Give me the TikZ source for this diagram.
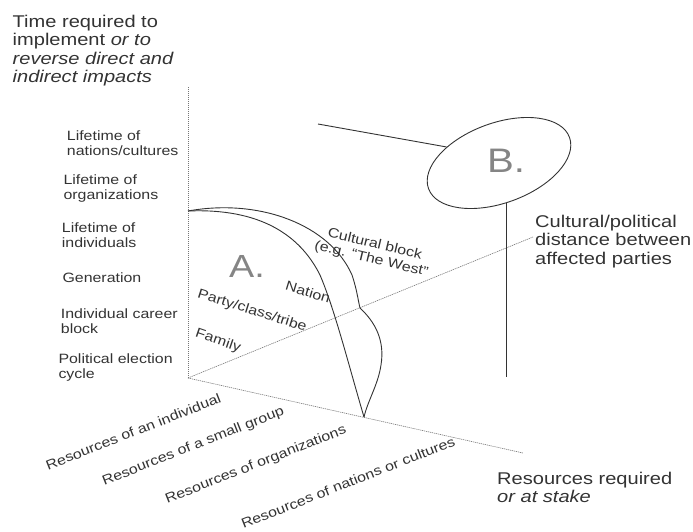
\documentclass[tikz,border=0pt]{standalone}
\usepackage{fontspec}
\setmainfont[FakeStretch=1.18]{Liberation Sans}
\usetikzlibrary{shapes.geometric}
\definecolor{ink}{HTML}{333333}
\definecolor{axisgray}{HTML}{767676}
\definecolor{lettergray}{HTML}{858585}

\begin{document}
\begin{tikzpicture}[x=1pt,y=-1pt,
  axis/.style={axisgray, line width=0.6pt, dash pattern=on 1.2pt off 0.8pt},
  curve/.style={ink, line width=0.9pt},
  lbl/.style={ink, inner sep=0pt, align=left, font=\fontsize{13.5}{15}\selectfont},
  biglbl/.style={ink, inner sep=0pt, align=left, font=\fontsize{17}{18.4}\selectfont},
  reslbl/.style={lbl, rotate=21.5},
  inlbl/.style={lbl},
  region/.style={lettergray, inner sep=0pt, font=\fontsize{32}{34}\selectfont}
]
\useasboundingbox (0,0) rectangle (693,532);

% axes
\coordinate (O) at (188,378);
\coordinate (ytop) at (188,87);
\coordinate (xend) at (523,453);
\coordinate (zend) at (533,237);
\draw[axis] (O) -- (ytop);
\draw[axis] (O) -- (xend);
\draw[axis] (O) -- (zend);

% region A: nation and cultural block envelopes
\coordinate (s) at (188,211);
\coordinate (e) at (364,417);
\coordinate (kink) at (360,308);
\draw[curve] (s) .. controls (260,208) and (300,235) .. (320,275)
  .. controls (335,310) and (350,370) .. (e);
\draw[curve] (s) .. controls (260,198) and (330,225) .. (352,275)
  .. controls (357,290) and (358,300) .. (kink)
  .. controls (375,322) and (385,340) .. (381,365)
  .. controls (378,385) and (368,400) .. (e);

% region B
\node[draw=ink, line width=0.9pt, ellipse, minimum width=150, minimum height=80,
      inner sep=0pt, rotate=20] (Bring) at (499,163) {};
\node[region, font=\fontsize{34}{36}\selectfont] (Blab) at (506,161) {B.};
\coordinate (lt) at (318,124);
\coordinate (vb) at (506,377);
\draw[curve] (lt) -- (Bring.143);
\draw[curve] (Bring.260) -- (Bring.260 |- vb);

\node[region] (Alab) at (247,266) {A.};

% axis titles
\node[biglbl, anchor=north west] (ttl) at (12.5,15)
  {Time required to\\implement \textit{or to}\\\textit{reverse direct and}\\\textit{indirect impacts}};
\node[biglbl, anchor=north west] (dist) at (535,215)
  {Cultural/political\\distance between\\affected parties};
\node[biglbl, anchor=north west] (resreq) at (497,471.5)
  {Resources required\\\textit{or at stake}};

% time scale
\node[lbl, anchor=north west] (t1) at (66.7,130.7) {Lifetime of\\nations/cultures};
\node[lbl, anchor=north west] (t2) at (63.3,175) {Lifetime of\\organizations};
\node[lbl, anchor=north west] (t3) at (61.7,222.3) {Lifetime of\\individuals};
\node[lbl, anchor=north west] (t4) at (62.3,272.3) {Generation};
\node[lbl, anchor=north west] (t5) at (60.7,308.3) {Individual career\\block};
\node[lbl, anchor=north west] (t6) at (58.3,354) {Political election\\cycle};

% resource scale
\node[reslbl] (r1) at (133.3,431.7) {Resources of an individual};
\node[reslbl] (r2) at (193.3,446.7) {Resources of a small group};
\node[reslbl] (r3) at (256,465) {Resources of organizations};
\node[reslbl] (r4) at (348,482.5) {Resources of nations or cultures};

% group labels inside region A
\node[inlbl, align=center, rotate=-13.5] (cb) at (373,252)
  {Cultural block\\(e.g. “The West”};
\node[inlbl, rotate=-17] (nat) at (308,292) {Nation};
\node[inlbl, rotate=-17.5] (pct) at (252,311) {Party/class/tribe};
\node[inlbl, rotate=-19] (fam) at (218,341) {Family};
\end{tikzpicture}
\end{document}
